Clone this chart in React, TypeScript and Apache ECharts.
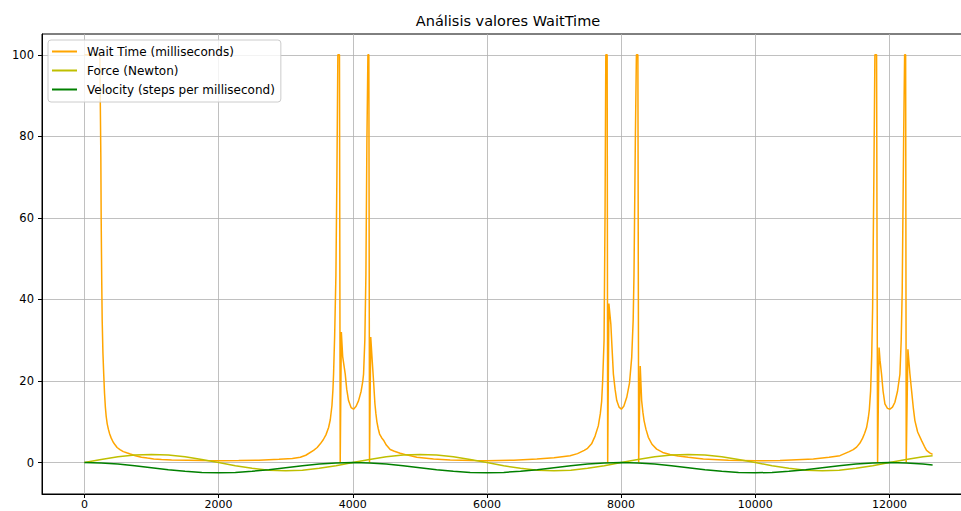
import React, { useEffect, useRef } from "react";
import * as echarts from "echarts";

const titleText = "Análisis valores WaitTime";
const seriesNames = ["Wait Time (milliseconds)", "Force (Newton)", "Velocity (steps per millisecond)"];
const seriesColors = ["#ffa500", "#bfbf00", "#008000"];

const xTicks = [0, 2000, 4000, 6000, 8000, 10000, 12000];
const yTicks = [0, 20, 40, 60, 80, 100];

// Wait time: x positions and values
const waitX = [
  0, 230, 238, 245, 250, 258, 265, 276, 288, 300, 313, 325, 340, 357, 377, 400, 430, 460, 487, 530, 580, 630,
  685, 760, 850, 940, 1033, 1150, 1300, 1778, 2000, 2300, 2600, 2900, 3100,
  3218, 3300, 3416, 3470, 3516, 3560, 3600, 3640, 3665, 3690, 3705, 3714, 3730, 3749, 3764, 3778, 3802, 3813,
  3830, 3850, 3888, 3910, 3937, 3975, 4012, 4050, 4087, 4125, 4150, 4161, 4180, 4196, 4211, 4226, 4240, 4250,
  4268, 4290, 4310, 4330, 4345, 4360, 4380, 4400, 4430, 4459, 4500, 4558, 4620, 4707, 4800, 4955,
  5204, 5452, 5800, 6000, 6400, 6744, 7000, 7240, 7350, 7450, 7500, 7560, 7612, 7660, 7690, 7710, 7725, 7746,
  7761, 7772, 7792, 7800, 7818, 7847, 7862, 7885, 7910, 7935, 7970, 8004, 8040, 8084, 8125, 8158, 8180, 8192,
  8212, 8228, 8250, 8262, 8285, 8306, 8325, 8342, 8370, 8406, 8460, 8530, 8620, 8729, 8850, 9000, 9226, 9600,
  10000, 10368, 10865, 11100, 11262, 11400, 11460, 11510, 11560, 11600, 11630, 11659, 11685, 11700, 11719,
  11735, 11749, 11768, 11783, 11808, 11823, 11845, 11860, 11882, 11905, 11932, 11970, 12007, 12045, 12081,
  12120, 12156, 12175, 12190, 12211, 12226, 12241, 12250, 12275, 12305, 12330, 12355, 12379, 12420, 12479,
  12520, 12553, 12600, 12643,
];
const waitValues = [
  100, 100, 100, 75, 60, 45, 35, 27, 21.7, 17, 13.5, 11.3, 9.5, 8.2, 7, 6, 5, 4.3, 3.7, 3.2, 2.7, 2.4,
  2.1, 1.7, 1.3, 1.1, 0.9, 0.75, 0.65, 0.5, 0.45, 0.5, 0.6, 0.8, 1.0,
  1.3, 1.8, 3.0, 3.7, 4.6, 5.6, 6.8, 8.6, 10.5, 14, 18, 21.7, 31, 46, 70.7, 100, 100, 0,
  32, 26, 21.7, 18, 15.2, 13.5, 13.1, 13.8, 15.2, 17.5, 20, 21.7, 30, 46, 78.8, 100, 100, 0,
  30.8, 25, 20, 14.5, 12, 10, 8.3, 7, 6.1, 5.5, 4.3, 3.2, 2.8, 2.3, 1.9, 1.3,
  0.9, 0.65, 0.5, 0.45, 0.6, 0.9, 1.2, 1.7, 2.2, 3.0, 3.5, 4.6, 6.5, 9, 12, 15, 20, 30,
  62, 100, 100, 0, 39, 34, 29, 21.7, 18, 15.2, 13.6, 13.1, 13.8, 16, 19.5, 25.8, 35, 46,
  78.8, 100, 100, 0, 23.7, 15.2, 12.3, 10.3, 8.2, 6.2, 4.5, 3.3, 2.5, 2.0, 1.6, 1.3, 0.9, 0.55,
  0.45, 0.5, 0.9, 1.3, 1.7, 2.7, 3.2, 3.8, 4.8, 6, 7.2, 8.6, 11, 13, 17.6,
  26, 38, 70.7, 100, 100, 0, 28.2, 25, 21.7, 17.5, 14.4, 13.3, 13.1, 13.6, 14.8,
  17.5, 21.7, 30, 42, 78.8, 100, 100, 0, 27.8, 21.7, 17.6, 13.5, 10.3, 7.5, 5.4,
  4.0, 3.0, 2.4, 2.0,
];

// Force and velocity sampled along x
const sampleX = [
  0, 250, 500, 750, 1000, 1250, 1500, 1750, 2000, 2250, 2500, 2750, 3000, 3250, 3500, 3750, 4000,
  4250, 4500, 4750, 5000, 5250, 5500, 5750, 6000, 6250, 6500, 6750, 7000, 7250, 7500, 7750, 8000,
  8250, 8500, 8750, 9000, 9250, 9500, 9750, 10000, 10250, 10500, 10750, 11000, 11250, 11500, 11750, 12000,
  12250, 12500, 12643,
];
const forceValues = [
  0, 0.77, 1.41, 1.85, 2.0, 1.85, 1.41, 0.77, 0, -0.77, -1.41, -1.85, -2.0, -1.85, -1.41, -0.77, 0,
  0.77, 1.41, 1.85, 2.0, 1.85, 1.41, 0.77, 0, -0.77, -1.41, -1.85, -2.0, -1.85, -1.41, -0.77, 0,
  0.77, 1.41, 1.85, 2.0, 1.85, 1.41, 0.77, 0, -0.77, -1.41, -1.85, -2.0, -1.85, -1.41, -0.77, 0,
  0.77, 1.41, 1.68,
];
const velocityValues = [
  0, -0.1, -0.37, -0.77, -1.25, -1.73, -2.13, -2.4, -2.5, -2.4, -2.13, -1.73, -1.25, -0.77, -0.37, -0.1, 0,
  -0.1, -0.37, -0.77, -1.25, -1.73, -2.13, -2.4, -2.5, -2.4, -2.13, -1.73, -1.25, -0.77, -0.37, -0.1, 0,
  -0.1, -0.37, -0.77, -1.25, -1.73, -2.13, -2.4, -2.5, -2.4, -2.13, -1.73, -1.25, -0.77, -0.37, -0.1, 0,
  -0.1, -0.37, -0.57,
];

const FONT = "DejaVu Sans";

export default function App() {
  const ref = useRef<HTMLDivElement>(null);
  useEffect(() => {
    if (!ref.current) return;
    const chart = echarts.init(ref.current, null, { renderer: "svg" });
    const zip = (xs: number[], ys: number[]) => xs.map((x, i) => [x, ys[i]]);
    const datasets = [zip(waitX, waitValues), zip(sampleX, forceValues), zip(sampleX, velocityValues)];
    chart.setOption({
      animation: false,
      backgroundColor: "#ffffff",
      textStyle: { fontFamily: FONT },
      grid: {
        left: 42,
        top: 34,
        width: 933,
        height: 460,
        containLabel: false,
        outerBoundsMode: "none",
        show: true,
        borderColor: "#000000",
        borderWidth: 1,
        backgroundColor: "transparent",
      },
      graphic: [
        {
          type: "text",
          x: 508,
          y: 21,
          style: {
            text: titleText,
            fill: "#000000",
            font: `14.5px "${FONT}"`,
            textAlign: "center",
            textVerticalAlign: "middle",
          },
        },
      ],
      legend: {
        orient: "vertical",
        left: 48,
        top: 40,
        padding: [2, 6, 3, 4],
        itemGap: 0,
        itemWidth: 25,
        itemHeight: 2,
        icon: "rect",
        backgroundColor: "rgba(255,255,255,0.8)",
        borderColor: "#cccccc",
        borderWidth: 1,
        borderRadius: 3,
        textStyle: { fontFamily: FONT, fontSize: 12, color: "#000000", lineHeight: 19, padding: [0, 0, 0, 5] },
        data: seriesNames,
      },
      xAxis: {
        type: "value",
        min: -632,
        max: 13275,
        axisLine: { show: true, onZero: false, lineStyle: { color: "#000000", width: 1 } },
        axisTick: { show: true, length: 4, customValues: xTicks, lineStyle: { color: "#000000" } },
        axisLabel: {
          customValues: xTicks,
          formatter: (v: number) => String(v),
          color: "#000000",
          fontSize: 11,
          fontFamily: FONT,
          margin: 5,
        },
        splitLine: { show: true, lineStyle: { color: "#b0b0b0", width: 0.8 } },
      },
      yAxis: {
        type: "value",
        min: -7.7,
        max: 105.1,
        axisLine: { show: true, onZero: false, lineStyle: { color: "#000000", width: 1 } },
        axisTick: { show: true, length: 4, customValues: yTicks, lineStyle: { color: "#000000" } },
        axisLabel: {
          customValues: yTicks,
          formatter: (v: number) => String(v),
          color: "#000000",
          fontSize: 11.5,
          fontFamily: FONT,
          margin: 8,
        },
        splitLine: { show: true, lineStyle: { color: "#b0b0b0", width: 0.8 } },
      },
      series: seriesNames.map((name, i) => ({
        name,
        type: "line",
        data: datasets[i],
        showSymbol: false,
        symbol: "none",
        color: seriesColors[i],
        lineStyle: { color: seriesColors[i], width: 1.5 },
        z: 2 + i,
      })),
    });
    return () => chart.dispose();
  }, []);
  return <div ref={ref} style={{ position: "absolute", left: 0, top: 0, width: 961, height: 511 }} />;
}
